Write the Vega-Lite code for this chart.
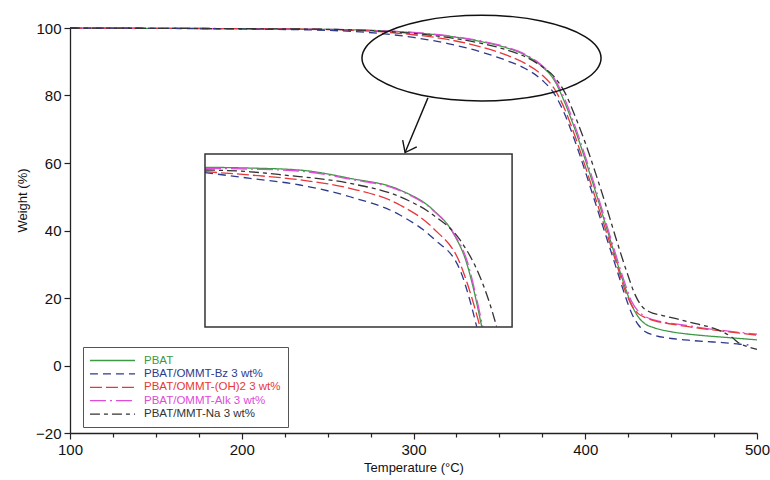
{
  "$schema": "https://vega.github.io/schema/vega-lite/v6.json",
  "width": 687,
  "height": 405,
  "autosize": {"type": "none"},
  "padding": {"left": 70, "top": 28, "right": 13, "bottom": 47},
  "background": "white",
  "config": {
    "view": {"stroke": null},
    "font": "Liberation Sans",
    "legend": {
      "labelFont": "Liberation Sans",
      "labelFontSize": 11.5,
      "symbolType": "M-4.1,0H4.1",
      "symbolSize": 121,
      "symbolOffset": 16,
      "labelOffset": 25,
      "symbolStrokeWidth": 1.3,
      "strokeColor": "#555",
      "fillColor": "white",
      "padding": 7,
      "rowPadding": 1.4
    }
  },
  "datasets": {
    "curves": [
      {"s":"PBAT","p":"m","T":100,"W":100},{"s":"PBAT","p":"m","T":150,"W":99.9},{"s":"PBAT","p":"m","T":200,"W":99.8},{"s":"PBAT","p":"m","T":250,"W":99.6},{"s":"PBAT","p":"m","T":280,"W":99.2},{"s":"PBAT","p":"m","T":300,"W":98.6},{"s":"PBAT","p":"m","T":320,"W":97.6},{"s":"PBAT","p":"m","T":340,"W":95.9},{"s":"PBAT","p":"m","T":355,"W":94},{"s":"PBAT","p":"m","T":365,"W":92},{"s":"PBAT","p":"m","T":375,"W":88.5},{"s":"PBAT","p":"m","T":382,"W":84.5},{"s":"PBAT","p":"m","T":388,"W":78},{"s":"PBAT","p":"m","T":394,"W":70},{"s":"PBAT","p":"m","T":400,"W":61},{"s":"PBAT","p":"m","T":406,"W":51.5},{"s":"PBAT","p":"m","T":412,"W":41.5},{"s":"PBAT","p":"m","T":418,"W":31.5},{"s":"PBAT","p":"m","T":423,"W":23.5},{"s":"PBAT","p":"m","T":427,"W":18},{"s":"PBAT","p":"m","T":431,"W":14.3},{"s":"PBAT","p":"m","T":435,"W":12.3},{"s":"PBAT","p":"m","T":440,"W":11.2},{"s":"PBAT","p":"m","T":450,"W":10},{"s":"PBAT","p":"m","T":460,"W":9.3},{"s":"PBAT","p":"m","T":470,"W":8.8},{"s":"PBAT","p":"m","T":480,"W":8.4},{"s":"PBAT","p":"m","T":490,"W":8},{"s":"PBAT","p":"m","T":500,"W":7.6},
      {"s":"Alk","p":"m","T":100,"W":100},{"s":"Alk","p":"m","T":150,"W":99.9},{"s":"Alk","p":"m","T":200,"W":99.8},{"s":"Alk","p":"m","T":250,"W":99.6},{"s":"Alk","p":"m","T":280,"W":99.2},{"s":"Alk","p":"m","T":300,"W":98.7},{"s":"Alk","p":"m","T":320,"W":97.7},{"s":"Alk","p":"m","T":340,"W":96.1},{"s":"Alk","p":"m","T":355,"W":94.2},{"s":"Alk","p":"m","T":365,"W":92.2},{"s":"Alk","p":"m","T":375,"W":88.8},{"s":"Alk","p":"m","T":382,"W":85},{"s":"Alk","p":"m","T":388,"W":79},{"s":"Alk","p":"m","T":394,"W":71},{"s":"Alk","p":"m","T":400,"W":62},{"s":"Alk","p":"m","T":406,"W":52.5},{"s":"Alk","p":"m","T":412,"W":42.5},{"s":"Alk","p":"m","T":418,"W":32.5},{"s":"Alk","p":"m","T":423,"W":24.5},{"s":"Alk","p":"m","T":427,"W":19},{"s":"Alk","p":"m","T":431,"W":16},{"s":"Alk","p":"m","T":435,"W":14.5},{"s":"Alk","p":"m","T":440,"W":13.5},{"s":"Alk","p":"m","T":450,"W":12.5},{"s":"Alk","p":"m","T":460,"W":11.8},{"s":"Alk","p":"m","T":470,"W":11},{"s":"Alk","p":"m","T":480,"W":10.4},{"s":"Alk","p":"m","T":490,"W":9.8},{"s":"Alk","p":"m","T":500,"W":9.3},
      {"s":"OH","p":"m","T":100,"W":100},{"s":"OH","p":"m","T":150,"W":99.9},{"s":"OH","p":"m","T":200,"W":99.8},{"s":"OH","p":"m","T":250,"W":99.5},{"s":"OH","p":"m","T":280,"W":98.9},{"s":"OH","p":"m","T":300,"W":98},{"s":"OH","p":"m","T":320,"W":96.6},{"s":"OH","p":"m","T":340,"W":94.3},{"s":"OH","p":"m","T":355,"W":91.8},{"s":"OH","p":"m","T":365,"W":89.5},{"s":"OH","p":"m","T":375,"W":86},{"s":"OH","p":"m","T":382,"W":82},{"s":"OH","p":"m","T":388,"W":76},{"s":"OH","p":"m","T":394,"W":68},{"s":"OH","p":"m","T":400,"W":59},{"s":"OH","p":"m","T":406,"W":49.5},{"s":"OH","p":"m","T":412,"W":40},{"s":"OH","p":"m","T":418,"W":30.5},{"s":"OH","p":"m","T":423,"W":22.5},{"s":"OH","p":"m","T":427,"W":17.8},{"s":"OH","p":"m","T":431,"W":15.3},{"s":"OH","p":"m","T":435,"W":14.2},{"s":"OH","p":"m","T":440,"W":13.3},{"s":"OH","p":"m","T":450,"W":12.3},{"s":"OH","p":"m","T":460,"W":11.5},{"s":"OH","p":"m","T":470,"W":10.8},{"s":"OH","p":"m","T":480,"W":10.2},{"s":"OH","p":"m","T":490,"W":9.6},{"s":"OH","p":"m","T":500,"W":9},
      {"s":"Bz","p":"m","T":100,"W":100},{"s":"Bz","p":"m","T":150,"W":99.9},{"s":"Bz","p":"m","T":200,"W":99.7},{"s":"Bz","p":"m","T":250,"W":99.3},{"s":"Bz","p":"m","T":280,"W":98.4},{"s":"Bz","p":"m","T":300,"W":97.2},{"s":"Bz","p":"m","T":320,"W":95.4},{"s":"Bz","p":"m","T":340,"W":92.8},{"s":"Bz","p":"m","T":355,"W":90.2},{"s":"Bz","p":"m","T":365,"W":88},{"s":"Bz","p":"m","T":375,"W":84.5},{"s":"Bz","p":"m","T":382,"W":80.5},{"s":"Bz","p":"m","T":388,"W":74.5},{"s":"Bz","p":"m","T":394,"W":66.5},{"s":"Bz","p":"m","T":400,"W":57.5},{"s":"Bz","p":"m","T":406,"W":48},{"s":"Bz","p":"m","T":412,"W":38.5},{"s":"Bz","p":"m","T":418,"W":29},{"s":"Bz","p":"m","T":423,"W":21},{"s":"Bz","p":"m","T":427,"W":15.5},{"s":"Bz","p":"m","T":431,"W":12},{"s":"Bz","p":"m","T":435,"W":10},{"s":"Bz","p":"m","T":440,"W":9},{"s":"Bz","p":"m","T":450,"W":8},{"s":"Bz","p":"m","T":460,"W":7.5},{"s":"Bz","p":"m","T":470,"W":7.1},{"s":"Bz","p":"m","T":480,"W":6.8},{"s":"Bz","p":"m","T":490,"W":6.3},{"s":"Bz","p":"m","T":495,"W":6.1},
      {"s":"Na","p":"m","T":100,"W":100},{"s":"Na","p":"m","T":150,"W":99.9},{"s":"Na","p":"m","T":200,"W":99.8},{"s":"Na","p":"m","T":250,"W":99.6},{"s":"Na","p":"m","T":280,"W":99.1},{"s":"Na","p":"m","T":300,"W":98.4},{"s":"Na","p":"m","T":320,"W":97.2},{"s":"Na","p":"m","T":340,"W":95.4},{"s":"Na","p":"m","T":355,"W":93.4},{"s":"Na","p":"m","T":365,"W":91.5},{"s":"Na","p":"m","T":375,"W":88.5},{"s":"Na","p":"m","T":382,"W":85.5},{"s":"Na","p":"m","T":388,"W":81},{"s":"Na","p":"m","T":394,"W":74},{"s":"Na","p":"m","T":400,"W":66},{"s":"Na","p":"m","T":406,"W":57},{"s":"Na","p":"m","T":412,"W":47.5},{"s":"Na","p":"m","T":418,"W":37.5},{"s":"Na","p":"m","T":424,"W":28},{"s":"Na","p":"m","T":429,"W":21},{"s":"Na","p":"m","T":433,"W":17.5},{"s":"Na","p":"m","T":437,"W":16},{"s":"Na","p":"m","T":445,"W":14.8},{"s":"Na","p":"m","T":455,"W":13.6},{"s":"Na","p":"m","T":465,"W":12.3},{"s":"Na","p":"m","T":475,"W":11},{"s":"Na","p":"m","T":485,"W":8.5},{"s":"Na","p":"m","T":490,"W":6.5},{"s":"Na","p":"m","T":495,"W":5.5},{"s":"Na","p":"m","T":500,"W":4.8},
      {"s":"PBAT","p":"i","T":178.6,"W":58.73},{"s":"PBAT","p":"i","T":205,"W":58.5},{"s":"PBAT","p":"i","T":233.9,"W":57.9},{"s":"PBAT","p":"i","T":263,"W":55.46},{"s":"PBAT","p":"i","T":292.1,"W":52},{"s":"PBAT","p":"i","T":311.5,"W":46.07},{"s":"PBAT","p":"i","T":323.2,"W":39.16},{"s":"PBAT","p":"i","T":331,"W":30.27},{"s":"PBAT","p":"i","T":335.5,"W":21.5},{"s":"PBAT","p":"i","T":339.7,"W":11.5},
      {"s":"Alk","p":"i","T":178.6,"W":58.42},{"s":"Alk","p":"i","T":205,"W":58.2},{"s":"Alk","p":"i","T":233.9,"W":57.6},{"s":"Alk","p":"i","T":263,"W":55.2},{"s":"Alk","p":"i","T":292.1,"W":51.8},{"s":"Alk","p":"i","T":311.5,"W":45.9},{"s":"Alk","p":"i","T":323.2,"W":39.3},{"s":"Alk","p":"i","T":331.5,"W":30.5},{"s":"Alk","p":"i","T":336,"W":21.5},{"s":"Alk","p":"i","T":340.3,"W":11.5},
      {"s":"Na","p":"i","T":178.6,"W":57.93},{"s":"Na","p":"i","T":205,"W":57.4},{"s":"Na","p":"i","T":224.2,"W":56.44},{"s":"Na","p":"i","T":263,"W":53.97},{"s":"Na","p":"i","T":292.1,"W":50},{"s":"Na","p":"i","T":311.5,"W":44.59},{"s":"Na","p":"i","T":327.1,"W":37.19},{"s":"Na","p":"i","T":338.7,"W":26.3},{"s":"Na","p":"i","T":344,"W":19},{"s":"Na","p":"i","T":348.4,"W":11.5},
      {"s":"OH","p":"i","T":178.6,"W":57.43},{"s":"OH","p":"i","T":204.8,"W":56.44},{"s":"OH","p":"i","T":233.9,"W":55},{"s":"OH","p":"i","T":263,"W":52.49},{"s":"OH","p":"i","T":292.1,"W":47.56},{"s":"OH","p":"i","T":311.5,"W":40.64},{"s":"OH","p":"i","T":327.1,"W":30.27},{"s":"OH","p":"i","T":334,"W":20},{"s":"OH","p":"i","T":338.7,"W":11.5},
      {"s":"Bz","p":"i","T":178.6,"W":57.14},{"s":"Bz","p":"i","T":204.8,"W":55.46},{"s":"Bz","p":"i","T":233.9,"W":53.48},{"s":"Bz","p":"i","T":263,"W":50},{"s":"Bz","p":"i","T":292.1,"W":44.59},{"s":"Bz","p":"i","T":311.5,"W":37.68},{"s":"Bz","p":"i","T":327.1,"W":28.3},{"s":"Bz","p":"i","T":333,"W":19},{"s":"Bz","p":"i","T":336.8,"W":11.5}
    ],
    "frame": [{"T": 178.6, "T2": 357.4, "W": 11.4, "W2": 62.7}],
    "ellipse": [
      {"i":0,"T":409.2,"W":91.1},{"i":1,"T":406.83,"W":94.39},{"i":2,"T":399.87,"W":97.45},{"i":3,"T":388.81,"W":100.08},{"i":4,"T":374.4,"W":102.1},{"i":5,"T":357.61,"W":103.37},{"i":6,"T":339.6,"W":103.8},{"i":7,"T":321.59,"W":103.37},{"i":8,"T":304.8,"W":102.1},{"i":9,"T":290.39,"W":100.08},{"i":10,"T":279.33,"W":97.45},{"i":11,"T":272.37,"W":94.39},{"i":12,"T":270,"W":91.1},{"i":13,"T":272.37,"W":87.81},{"i":14,"T":279.33,"W":84.75},{"i":15,"T":290.39,"W":82.12},{"i":16,"T":304.8,"W":80.1},{"i":17,"T":321.59,"W":78.83},{"i":18,"T":339.6,"W":78.4},{"i":19,"T":357.61,"W":78.83},{"i":20,"T":374.4,"W":80.1},{"i":21,"T":388.81,"W":82.12},{"i":22,"T":399.87,"W":84.75},{"i":23,"T":406.83,"W":87.81}
    ],
    "arrow": [
      {"g":"shaft","i":0,"T":308.4,"W":79.3},{"g":"shaft","i":1,"T":295.1,"W":63.1},
      {"g":"head","i":0,"T":293.7,"W":66.8},{"g":"head","i":1,"T":295.1,"W":63.1},{"g":"head","i":2,"T":301.9,"W":64.8}
    ]
  },
  "layer": [
    {
      "data": {"name": "curves"},
      "mark": {"type": "line", "strokeWidth": 1.3, "interpolate": "monotone"},
      "encoding": {
        "x": {
          "field": "T", "type": "quantitative", "title": "Temperature (°C)",
          "scale": {"domain": [100, 500], "nice": false, "zero": false},
          "axis": {
            "values": [100,125,150,175,200,225,250,275,300,325,350,375,400,425,450,475,500],
            "labelExpr": "datum.value % 100 === 0 ? datum.label : ''",
            "tickSize": {"condition": {"test": "datum.value % 100 === 0", "value": 6}, "value": 4},
            "grid": false, "domainColor": "#222", "domainWidth": 1.3, "tickColor": "#222", "tickWidth": 1.2,
            "labelFontSize": 15, "labelColor": "#111", "labelPadding": 3, "labelOverlap": false, "labelFlush": false, "labelBound": false,
            "titleFontSize": 13, "titleFontWeight": "normal", "titleColor": "#111", "titlePadding": 4
          }
        },
        "y": {
          "field": "W", "type": "quantitative", "title": "Weight (%)",
          "scale": {"domain": [-20, 100], "nice": false, "zero": false},
          "axis": {
            "values": [-20,-15,-10,-5,0,5,10,15,20,25,30,35,40,45,50,55,60,65,70,75,80,85,90,95,100],
            "labelExpr": "datum.value % 20 === 0 ? datum.label : ''",
            "tickSize": {"condition": {"test": "datum.value % 20 === 0", "value": 6}, "value": 4},
            "grid": false, "domainColor": "#222", "domainWidth": 1.3, "tickColor": "#222", "tickWidth": 1.2,
            "labelFontSize": 15, "labelColor": "#111", "labelPadding": 3, "labelOverlap": false, "labelFlush": false, "labelBound": false,
            "titleFontSize": 13, "titleFontWeight": "normal", "titleColor": "#111", "titlePadding": 6, "titleY": 172
          }
        },
        "color": {
          "field": "s", "type": "nominal",
          "scale": {"domain": ["PBAT","Bz","OH","Alk","Na"], "range": ["#3c9a46","#2e3a8c","#e8373a","#e04bd8","#333333"]},
          "legend": {
            "title": null, "orient": "none", "legendX": 13, "legendY": 319,
            "labelExpr": "datum.value === 'PBAT' ? 'PBAT' : datum.value === 'Bz' ? 'PBAT/OMMT-Bz 3 wt%' : datum.value === 'OH' ? 'PBAT/OMMT-(OH)2 3 wt%' : datum.value === 'Alk' ? 'PBAT/OMMT-Alk 3 wt%' : 'PBAT/MMT-Na 3 wt%'",
            "encode": {"labels": {"update": {"fill": {"scale": "color", "field": "value"}}}}
          }
        },
        "strokeDash": {
          "field": "s", "type": "nominal",
          "scale": {"domain": ["PBAT","Bz","OH","Alk","Na"], "range": [[1,0],[8,5],[12,4],[16,4,2,4],[10,4,4,4]]},
          "legend": {
            "title": null, "orient": "none", "legendX": 13, "legendY": 319,
            "labelExpr": "datum.value === 'PBAT' ? 'PBAT' : datum.value === 'Bz' ? 'PBAT/OMMT-Bz 3 wt%' : datum.value === 'OH' ? 'PBAT/OMMT-(OH)2 3 wt%' : datum.value === 'Alk' ? 'PBAT/OMMT-Alk 3 wt%' : 'PBAT/MMT-Na 3 wt%'",
            "encode": {"labels": {"update": {"fill": {"scale": "color", "field": "value"}}}}
          }
        },
        "detail": {"field": "p", "type": "nominal"}
      }
    },
    {
      "data": {"name": "frame"},
      "mark": {"type": "rect", "fill": null, "stroke": "#333", "strokeWidth": 1.5},
      "encoding": {
        "x": {"field": "T", "type": "quantitative", "title": "Temperature (°C)"},
        "x2": {"field": "T2"},
        "y": {"field": "W", "type": "quantitative", "title": "Weight (%)"},
        "y2": {"field": "W2"}
      }
    },
    {
      "data": {"name": "ellipse"},
      "mark": {"type": "line", "interpolate": "cardinal-closed", "color": "#111", "strokeWidth": 1.5},
      "encoding": {
        "x": {"field": "T", "type": "quantitative", "title": "Temperature (°C)"},
        "y": {"field": "W", "type": "quantitative", "title": "Weight (%)"},
        "order": {"field": "i", "type": "quantitative"}
      }
    },
    {
      "data": {"name": "arrow"},
      "mark": {"type": "line", "color": "#111", "strokeWidth": 1.4},
      "encoding": {
        "x": {"field": "T", "type": "quantitative", "title": "Temperature (°C)"},
        "y": {"field": "W", "type": "quantitative", "title": "Weight (%)"},
        "detail": {"field": "g", "type": "nominal"},
        "order": {"field": "i", "type": "quantitative"}
      }
    }
  ]
}
